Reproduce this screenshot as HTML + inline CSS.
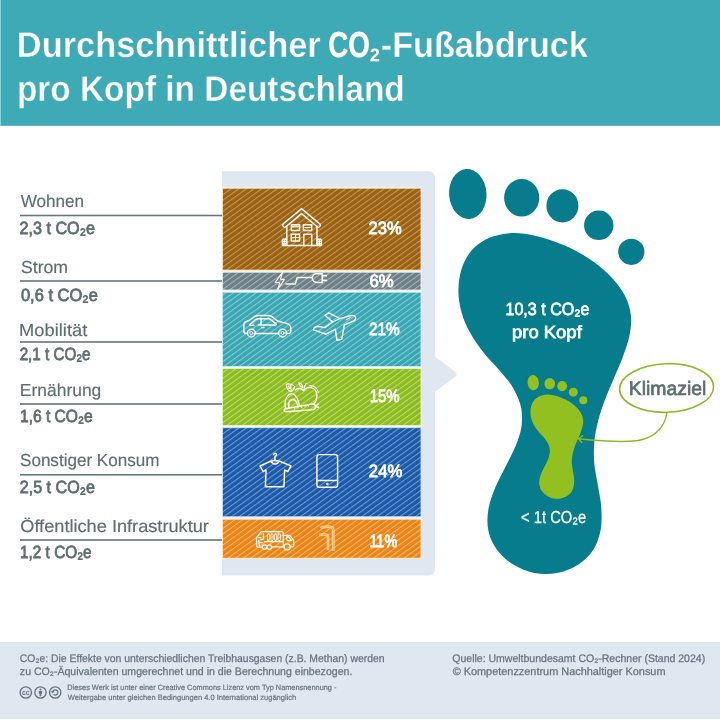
<!DOCTYPE html>
<html lang="de"><head><meta charset="utf-8"><title>Durchschnittlicher CO₂-Fußabdruck pro Kopf in Deutschland</title>
<style>
html,body{margin:0;padding:0;background:#fff;}
body{width:720px;height:720px;overflow:hidden;}
svg{display:block;}
text{font-family:"Liberation Sans",sans-serif;}
.b{font-weight:bold;}
</style></head><body>
<svg width="720" height="720" viewBox="0 0 720 720" text-rendering="geometricPrecision">
<defs>
<pattern id="p0" width="20" height="4.5" patternUnits="userSpaceOnUse" patternTransform="rotate(-36)"><rect width="20" height="4.5" fill="#9a6213"/><rect y="0" width="20" height="1.05" fill="#c9995a"/></pattern>
<pattern id="p1" width="20" height="4.5" patternUnits="userSpaceOnUse" patternTransform="rotate(-36)"><rect width="20" height="4.5" fill="#6c7f86"/><rect y="0" width="20" height="1.05" fill="#a9b5ba"/></pattern>
<pattern id="p2" width="20" height="4.5" patternUnits="userSpaceOnUse" patternTransform="rotate(-36)"><rect width="20" height="4.5" fill="#39a7b3"/><rect y="0" width="20" height="1.05" fill="#86cdd5"/></pattern>
<pattern id="p3" width="20" height="4.5" patternUnits="userSpaceOnUse" patternTransform="rotate(-36)"><rect width="20" height="4.5" fill="#8cbb1d"/><rect y="0" width="20" height="1.05" fill="#bddc78"/></pattern>
<pattern id="p4" width="20" height="4.5" patternUnits="userSpaceOnUse" patternTransform="rotate(-36)"><rect width="20" height="4.5" fill="#1b59a8"/><rect y="0" width="20" height="1.05" fill="#6f9bd2"/></pattern>
<pattern id="p5" width="20" height="4.5" patternUnits="userSpaceOnUse" patternTransform="rotate(-36)"><rect width="20" height="4.5" fill="#ec8415"/><rect y="0" width="20" height="1.05" fill="#f5b873"/></pattern>
<g id="foot"><path d="M511.9,233.1C519.2,232.7 526.7,233.9 533.9,235.4C541.1,236.8 548.2,239.2 555.1,241.7C562.0,244.3 568.7,247.1 575.2,250.5C581.8,254.0 588.2,257.8 594.3,262.3C600.4,266.8 606.6,272.0 611.6,277.5C616.7,283.0 621.6,289.1 624.8,295.4C628.0,301.7 630.2,308.5 630.9,315.3C631.7,322.1 630.7,329.3 629.3,336.3C627.9,343.4 625.1,350.6 622.5,357.7C619.9,364.8 616.6,371.7 613.7,378.7C610.8,385.6 607.7,392.3 605.1,399.2C602.6,406.2 600.1,413.1 598.3,420.2C596.5,427.3 595.0,434.5 594.3,441.7C593.7,449.0 593.7,456.3 594.3,463.6C594.9,470.9 596.8,478.2 597.9,485.6C599.1,493.0 600.9,500.5 601.3,507.9C601.7,515.3 601.9,523.1 600.6,530.1C599.2,537.1 597.1,544.0 593.3,549.8C589.6,555.6 584.1,560.9 578.1,564.8C572.0,568.6 564.4,571.7 557.1,573.0C549.8,574.4 541.6,574.3 534.2,572.9C526.8,571.4 519.2,568.2 512.9,564.3C506.6,560.4 500.7,555.0 496.6,549.3C492.5,543.7 489.6,537.0 488.3,530.3C486.9,523.6 487.3,516.3 488.4,509.2C489.6,502.2 492.3,495.1 495.1,488.1C497.9,481.1 501.9,474.2 505.2,467.3C508.6,460.4 512.5,453.6 515.3,446.8C518.0,439.9 520.7,433.1 521.5,426.2C522.4,419.3 522.3,412.1 520.6,405.4C518.9,398.6 515.4,391.7 511.6,385.5C507.7,379.3 502.2,373.8 497.4,368.1C492.5,362.4 487.0,357.0 482.4,351.0C477.9,345.1 473.5,338.9 470.0,332.5C466.5,326.1 463.5,319.4 461.6,312.4C459.6,305.4 458.4,298.0 458.4,290.7C458.5,283.4 459.5,275.5 461.7,268.6C464.0,261.8 467.5,255.0 472.2,249.8C476.9,244.6 483.4,240.4 490.0,237.6C496.6,234.9 504.5,233.5 511.9,233.1Z"/><ellipse cx="467.8" cy="194" rx="18.7" ry="25" transform="rotate(-4 467.8 194)"/><ellipse cx="521.7" cy="197.8" rx="17.6" ry="18.8"/><ellipse cx="562.4" cy="205.8" rx="16" ry="16.6"/><circle cx="598.75" cy="225.3" r="14.7"/><circle cx="631.3" cy="251.8" r="13.1"/></g>
</defs>
<rect x="0" y="0" width="720" height="125.8" fill="#3daab5"/><rect x="0" y="0" width="1" height="125.8" fill="#86d6dd"/>
<text class="b" x="16.80" y="57.3" fill="#fff" textLength="303.92" lengthAdjust="spacingAndGlyphs" stroke="#3daab5" stroke-width="0.35"><tspan font-size="36">Durchschnittlicher</tspan></text>
<text class="b" x="328.16" y="57.3" fill="#fff" stroke="#fff" stroke-width="0.3" textLength="41.71" lengthAdjust="spacingAndGlyphs"><tspan font-size="36">CO</tspan></text>
<text class="b" x="369.00" y="60.2" fill="#fff" textLength="11.56" lengthAdjust="spacingAndGlyphs"><tspan font-size="36">₂</tspan></text>
<text class="b" x="380.76" y="57.3" fill="#fff" textLength="207.10" lengthAdjust="spacingAndGlyphs" stroke="#3daab5" stroke-width="0.35"><tspan font-size="36">-Fußabdruck</tspan></text>
<text class="b" x="16.90" y="101.4" fill="#fff" textLength="387.80" lengthAdjust="spacingAndGlyphs" stroke="#3daab5" stroke-width="0.35"><tspan font-size="36">pro Kopf in Deutschland</tspan></text>
<path d="M222,171.3H429a6,6 0 0 1 6,6V356.7L455.5,372a3,3 0 0 1 0,4.6L435,391.7V569.5a6,6 0 0 1 -6,6H222Z" fill="#dfe7f1"/>
<rect x="222" y="187.4" width="199.5" height="371.6" fill="#fbfaf5"/>
<rect x="222.5" y="188.2" width="198.5" height="81.9" fill="url(#p0)" stroke="#f3e2c4" stroke-width="0.9"/>
<rect x="222.5" y="272.2" width="198.5" height="17.8" fill="url(#p1)" stroke="#e3e8ea" stroke-width="0.9"/>
<rect x="222.5" y="292.2" width="198.5" height="74.4" fill="url(#p2)" stroke="#cfeef1" stroke-width="0.9"/>
<rect x="222.5" y="368.6" width="198.5" height="56.8" fill="url(#p3)" stroke="#e6f4c0" stroke-width="0.9"/>
<rect x="222.5" y="427.7" width="198.5" height="89.1" fill="url(#p4)" stroke="#c9dcf3" stroke-width="0.9"/>
<rect x="222.5" y="519.2" width="198.5" height="39.0" fill="url(#p5)" stroke="#fde6c4" stroke-width="0.9"/>
<rect x="20" y="214.7" width="202" height="1.6" fill="#66777a"/>
<text x="20.73" y="206.7" fill="#5d6e70" stroke="#5d6e70" stroke-width="0.15" textLength="63.38" lengthAdjust="spacingAndGlyphs"><tspan font-size="17.4">Wohnen</tspan></text>
<text x="19.59" y="234.3" fill="#5d6e70" stroke="#5d6e70" stroke-width="0.75" textLength="75.33" lengthAdjust="spacingAndGlyphs"><tspan font-size="17.6">2,3 t CO₂e</tspan></text>
<rect x="20" y="280.2" width="202" height="1.6" fill="#66777a"/>
<text x="21.00" y="272.5" fill="#5d6e70" stroke="#5d6e70" stroke-width="0.15" textLength="47.06" lengthAdjust="spacingAndGlyphs"><tspan font-size="17.4">Strom</tspan></text>
<text x="20.96" y="300.5" fill="#5d6e70" stroke="#5d6e70" stroke-width="0.75" textLength="76.98" lengthAdjust="spacingAndGlyphs"><tspan font-size="17.6">0,6 t CO₂e</tspan></text>
<rect x="20" y="341.2" width="202" height="1.6" fill="#66777a"/>
<text x="19.10" y="336.1" fill="#5d6e70" stroke="#5d6e70" stroke-width="0.15" textLength="68.14" lengthAdjust="spacingAndGlyphs"><tspan font-size="17.4">Mobilität</tspan></text>
<text x="19.64" y="360.1" fill="#5d6e70" stroke="#5d6e70" stroke-width="0.75" textLength="70.94" lengthAdjust="spacingAndGlyphs"><tspan font-size="17.6">2,1 t CO₂e</tspan></text>
<rect x="20" y="403.2" width="202" height="1.6" fill="#66777a"/>
<text x="19.87" y="395.8" fill="#5d6e70" stroke="#5d6e70" stroke-width="0.15" textLength="81.46" lengthAdjust="spacingAndGlyphs"><tspan font-size="17.4">Ernährung</tspan></text>
<text x="20.01" y="422.2" fill="#5d6e70" stroke="#5d6e70" stroke-width="0.75" textLength="72.68" lengthAdjust="spacingAndGlyphs"><tspan font-size="17.6">1,6 t CO₂e</tspan></text>
<rect x="20" y="474.0" width="202" height="1.6" fill="#66777a"/>
<text x="20.03" y="466.2" fill="#5d6e70" stroke="#5d6e70" stroke-width="0.15" textLength="139.40" lengthAdjust="spacingAndGlyphs"><tspan font-size="17.4">Sonstiger Konsum</tspan></text>
<text x="19.79" y="493.2" fill="#5d6e70" stroke="#5d6e70" stroke-width="0.75" textLength="75.12" lengthAdjust="spacingAndGlyphs"><tspan font-size="17.6">2,5 t CO₂e</tspan></text>
<rect x="20" y="539.2" width="202" height="1.6" fill="#66777a"/>
<text x="20.24" y="532" fill="#5d6e70" stroke="#5d6e70" stroke-width="0.15" textLength="188.66" lengthAdjust="spacingAndGlyphs"><tspan font-size="17.4">Öffentliche Infrastruktur</tspan></text>
<text x="20.03" y="557.6" fill="#5d6e70" stroke="#5d6e70" stroke-width="0.75" textLength="71.65" lengthAdjust="spacingAndGlyphs"><tspan font-size="17.6">1,2 t CO₂e</tspan></text>
<text x="368.57" y="234.4" fill="#fff" stroke="#fff" stroke-width="0.8" textLength="33.12" lengthAdjust="spacingAndGlyphs"><tspan font-size="17.8">23%</tspan></text>
<text x="369.44" y="286.8" fill="#fff" stroke="#fff" stroke-width="0.8" textLength="24.36" lengthAdjust="spacingAndGlyphs"><tspan font-size="17.8">6%</tspan></text>
<text x="368.93" y="334.7" fill="#fff" stroke="#fff" stroke-width="0.8" textLength="30.82" lengthAdjust="spacingAndGlyphs"><tspan font-size="17.8">21%</tspan></text>
<text x="369.66" y="401.7" fill="#fff" stroke="#fff" stroke-width="0.8" textLength="30.08" lengthAdjust="spacingAndGlyphs"><tspan font-size="17.8">15%</tspan></text>
<text x="368.86" y="477" fill="#fff" stroke="#fff" stroke-width="0.8" textLength="33.44" lengthAdjust="spacingAndGlyphs"><tspan font-size="17.8">24%</tspan></text>
<text x="369.44" y="546.7" fill="#fff" stroke="#fff" stroke-width="0.8" textLength="27.75" lengthAdjust="spacingAndGlyphs"><tspan font-size="17.8">11%</tspan></text>
<use href="#foot" fill="#077c8d"/>
<use href="#foot" fill="#92c020" transform="translate(390.1 323.2) scale(0.306)"/>
<text x="505.47" y="314.8" fill="#fff" stroke="#fff" stroke-width="0.75" textLength="84.04" lengthAdjust="spacingAndGlyphs"><tspan font-size="17.6">10,3 t CO₂e</tspan></text>
<text x="512.01" y="337.8" fill="#fff" stroke="#fff" stroke-width="0.75" textLength="69.76" lengthAdjust="spacingAndGlyphs"><tspan font-size="17.6">pro Kopf</tspan></text>
<text x="521.07" y="522.9" fill="#fff" stroke="#fff" stroke-width="0.3" textLength="65.18" lengthAdjust="spacingAndGlyphs"><tspan font-size="17.4">&lt; 1t CO₂e</tspan></text>
<ellipse cx="666.6" cy="388" rx="47" ry="24.3" fill="#fff" stroke="#8fb82b" stroke-width="1.6" transform="rotate(-2 666.6 388)"/>
<path d="M666.9,412.5C665.5,424 658,437 638,440.5C620,443 598,440.8 578.6,438.8M582.6,435.8L578.4,438.8L581.9,442.4" fill="none" stroke="#8fb82b" stroke-width="1.4" stroke-linecap="round" stroke-linejoin="round"/>
<text x="628.81" y="394.8" fill="#5d6e70" stroke="#5d6e70" stroke-width="0.7" textLength="77.48" lengthAdjust="spacingAndGlyphs"><tspan font-size="19.4">Klimaziel</tspan></text>
<rect x="0" y="642" width="720" height="76.9" fill="#dfe7f1"/>
<text x="19.77" y="661.7" fill="#67747d" stroke="#67747d" stroke-width="0.25" textLength="364.80" lengthAdjust="spacingAndGlyphs"><tspan font-size="10.9">CO₂e: Die Effekte von unterschiedlichen Treibhausgasen (z.B. Methan) werden</tspan></text>
<text x="19.87" y="674.7" fill="#67747d" stroke="#67747d" stroke-width="0.25" textLength="332.49" lengthAdjust="spacingAndGlyphs"><tspan font-size="10.9">zu CO₂-Äquivalenten umgerechnet und in die Berechnung einbezogen.</tspan></text>
<text x="67.30" y="690.4" fill="#67747d" stroke="#67747d" stroke-width="0.2" textLength="269.13" lengthAdjust="spacingAndGlyphs"><tspan font-size="7.7">Dieses Werk ist unter einer Creative Commons Lizenz vom Typ Namensnennung -</tspan></text>
<text x="67.87" y="699.6" fill="#67747d" stroke="#67747d" stroke-width="0.2" textLength="228.42" lengthAdjust="spacingAndGlyphs"><tspan font-size="7.7">Weitergabe unter gleichen Bedingungen 4.0 International zugänglich</tspan></text>
<text x="452.30" y="661.7" fill="#67747d" stroke="#67747d" stroke-width="0.25" textLength="252.85" lengthAdjust="spacingAndGlyphs"><tspan font-size="10.9">Quelle: Umweltbundesamt CO₂-Rechner (Stand 2024)</tspan></text>
<text x="452.63" y="674.7" fill="#67747d" stroke="#67747d" stroke-width="0.25" textLength="212.88" lengthAdjust="spacingAndGlyphs"><tspan font-size="10.9">© Kompetenzzentrum Nachhaltiger Konsum</tspan></text>
<circle cx="25.8" cy="692.5" r="5.65" fill="none" stroke="#65727b" stroke-width="1.3"/>
<circle cx="40.45" cy="692.5" r="5.65" fill="none" stroke="#65727b" stroke-width="1.3"/>
<circle cx="55.2" cy="692.5" r="5.65" fill="none" stroke="#65727b" stroke-width="1.3"/>
<text x="25.8" y="694.9" font-size="7.8" font-weight="bold" fill="#65727b" text-anchor="middle" textLength="7.6" lengthAdjust="spacingAndGlyphs">cc</text>
<circle cx="40.45" cy="689.4" r="1" fill="#65727b"/><path d="M38.8,691h3.3v2.7h-0.75v2.6h-1.8v-2.6h-0.75z" fill="#65727b"/>
<path d="M52.7,691.7A2.65,2.65 0 1 1 53.5,694.5" fill="none" stroke="#65727b" stroke-width="1.25"/><path d="M50.9,691.2h3.5l-1.8,2.2z" fill="#65727b"/>
<g fill="none" stroke="#fffaf0" stroke-width="1.45" stroke-linecap="round" stroke-linejoin="round">
<!-- house -->
<path d="M283.4,223.7L301.5,208.6L319.6,223.7A1.9,1.9 0 0 1 317.2,226.7L301.5,213.6L285.8,226.7A1.9,1.9 0 0 1 283.4,223.7Z"/>
<path d="M286.8,226.4V245.4H317V226.4"/>
<path d="M282.4,245.4V239.8L283.5,238.9L284.6,239.8V245.4M284.6,239.8L285.7,238.9L286.8,239.8M282.4,241.4H286.8M282.4,243.8H286.8M282.4,245.4H286.8"/>
<path d="M317,245.4V239.8L318.1,238.9L319.2,239.8V245.4M319.2,239.8L320.3,238.9L321.4,239.8V245.4M317,241.4H321.4M317,243.8H321.4M317,245.4H321.4"/>
<rect x="291.3" y="224.7" width="8.3" height="5.8"/><path d="M292.6,226.6H298.3" stroke-width="1.8" stroke="#efe6d6"/>
<rect x="303.4" y="224.7" width="8.3" height="5.8"/><path d="M304.7,227.6H310.4" stroke-width="1"/>
<rect x="291.3" y="234.3" width="8.3" height="6.6"/><path d="M295.45,234.3V240.9M291.3,237.6H299.6" stroke-width="1"/>
<path d="M303.8,245.4V234.3H311.7V245.4"/>
<!-- bolt + plug -->
<path d="M282.5,272.4L275.3,282.3L279.6,282.8L277.7,289.4L284.3,279.6L280.5,279.1Z" stroke-width="1.1"/>
<path d="M286,283.9H295.4L297.2,277.5H311.8"/>
<path d="M322.2,273.8H316.6a4.3,4.3 0 0 0 0,8.6H322.2Z"/>
<path d="M322.6,275.7h3.8M322.6,280.4h3.8" stroke-width="1.7"/>
<!-- car -->
<path d="M247.3,333.4H245.9Q243.9,333.2 243.9,331.2V323.6Q244,322.2 245.6,321.7L249.5,320.2L254.9,316.4Q256.5,315.4 258.2,315.4H268.3Q270.4,315.4 272,316.6L277.9,321.3L286.6,323.4Q290.6,324.6 290.8,328V331.4Q290.8,333.3 288.6,333.4H286.7M278.5,333.4H255.4"/>
<circle cx="251.3" cy="333" r="3.9"/><circle cx="251.3" cy="333" r="1.5" stroke-width="1"/>
<circle cx="282.6" cy="333" r="3.9"/><circle cx="282.6" cy="333" r="1.5" stroke-width="1"/>
<path d="M254,325.2L251,325.4Q249.4,325.3 250,324.3L255.8,319.5Q256.8,318.7 258,318.7H268.4Q269.8,318.7 270.8,319.6L276.2,324.1Q276.7,325 275.4,325H258.4M261.1,318.7L260.9,325M261.6,327.6H264"/>
<!-- plane -->
<path d="M339.8,318.6L350,315.9Q354.600,314.800 355.6,317.2Q356.200,319.300 353.6,320.8L344.300,325L341.7,339.400L336.900,340.400L335.400,329.200L326.200,334.200L313.600,329.900Q313.200,328.400 314.700,327.300L317.600,326.300L324.800,327.600L332.700,322L325,315.300L328.900,312.900Z"/>
<path d="M332.700,322L339.8,318.6" stroke-width="1.1"/>
<path d="M346.200,319.900L350.200,317.600" stroke-width="1"/>
<!-- food -->
<path d="M295.400,390Q297.600,388.200 299.400,388.300Q301.800,388.600 303.300,390.700Q306,387.300 309.400,387.400Q314,387.500 316.200,391.600Q317.600,396 316.200,400.200Q315.200,402.600 313.300,404.300"/>
<path d="M309.200,385.700Q313,385.300 315.400,387.300Q317.700,389.300 318.300,392.300" stroke-width="1.1"/>
<path d="M303.700,390.400Q304.400,386 306.300,383.300M302.900,387.600Q299.500,386.600 298.700,382.900Q302.400,383.500 302.900,387.600Z" stroke-width="1.1"/>
<path d="M286.200,384.200Q291,383 294.600,386.400Q294.400,390.100 290.800,391.800Q286.500,389.800 286.200,384.200ZM288.400,386.200L291.400,389.800M290.700,385.600L290.900,388M288.300,388.300L290.400,388.500" stroke-width="1.1"/>
<path d="M285.500,408.200Q284.200,402 286.600,397.500Q289.600,392.400 293.400,394Q297.800,396.600 299.300,405.400"/>
<path d="M288.800,407.200Q287.900,402.800 290,400.600Q292.600,398.400 295.400,400.600Q297.300,402.600 297.500,405.500"/>
<path d="M285.200,408.700L312.200,404Q315.400,403.800 315.600,406.600Q315.500,409.200 312.600,409.800L286,411.700Q284,411.600 284.100,410.200Q284.200,409 285.200,408.700ZM315.800,405.800L318.300,404.200M316,406.800L318.400,407.300"/>
<path d="M294.500,407.300v1.400M298,406.700v1.400M301.500,406.100v1.400M305,405.500v1.400M308.500,404.900v1.400" stroke-width="0.8"/>
<!-- t-shirt -->
<path d="M273.700,454.700Q273.900,453.200 275.200,453.200Q276.600,453.300 276.500,454.800Q276.300,456 275,456.500V460.200"/>
<path d="M271.100,461L260,465.800L263.200,471.700L266,469.900L265.400,486.700H284L284.600,469.900L287.800,471.700L291,465.800L279.200,461Q278.300,463.900 275.100,464Q272,463.900 271.100,461Q275,459.800 279.200,461"/>
<!-- phone -->
<rect x="316.900" y="454.600" width="20.700" height="32.600" rx="2.300"/>
<path d="M316.900,480.400H337.600"/><circle cx="327.200" cy="483.900" r="0.900" fill="#fff8ec" stroke-width="0.6"/>
<!-- truck -->
<g stroke-width="1.25">
<path d="M261.800,547.200H257.800Q256.900,547 256.800,546L256.500,538.600Q256.500,537.800 257,537L260.600,532.300Q261.300,531.600 262.200,531.600H282Q283.100,531.600 283.200,532.700L283.400,546.900H272.200"/>
<g stroke-width="0.9"><rect x="267.500" y="533.900" width="2.100" height="6.600" rx="0.700"/><rect x="271" y="533.900" width="2.100" height="6.600" rx="0.700"/><rect x="274.500" y="533.900" width="2.100" height="6.600" rx="0.700"/><rect x="278" y="533.900" width="2.400" height="6.600" rx="0.700"/></g>
<path d="M263.400,534.200V538.600Q263.300,539.600 262.200,539.600H260.600M258.800,537.500H261M264.500,541.600H282.300M258.600,540.500L259.400,545.600M259.200,542.500H262.200"/>
<path d="M283.400,535.400H289.200Q290,535.400 290.500,536.100L293,539.600Q293.500,540.300 293.600,541.200L293.800,545.800Q293.800,546.900 292.700,546.900H290.500M283.900,546.900H283.400"/>
<path d="M286.600,536.800H288.800L291.600,540.600H288.300Q286.700,540.600 286.600,539Z"/>
<circle cx="264.500" cy="547" r="2.250"/><circle cx="269.300" cy="547" r="2.250"/><circle cx="287.200" cy="546.900" r="3"/>
</g>
<!-- lamps -->
<g stroke="#fde3bd" stroke-width="0.8" fill="#fde3bd" fill-opacity="0.3">
<path d="M332.300,550.600V529.800Q332.200,527.700 330.200,527.700H326.300L321.600,528.300Q320.600,528.300 320.600,527.300Q320.700,526.300 321.700,526.300L326.300,525.900H330.600Q334,526 334.100,529.600V550.600"/>
<path d="M327.200,549.900V537Q327.100,535.300 325.500,535.300H323.600L320.400,535.700Q319.500,535.700 319.500,534.800Q319.600,534 320.400,534L323.600,533.700H325.900Q328.700,533.800 328.800,536.800V549.900"/>
</g>
</g>

</svg></body></html>
